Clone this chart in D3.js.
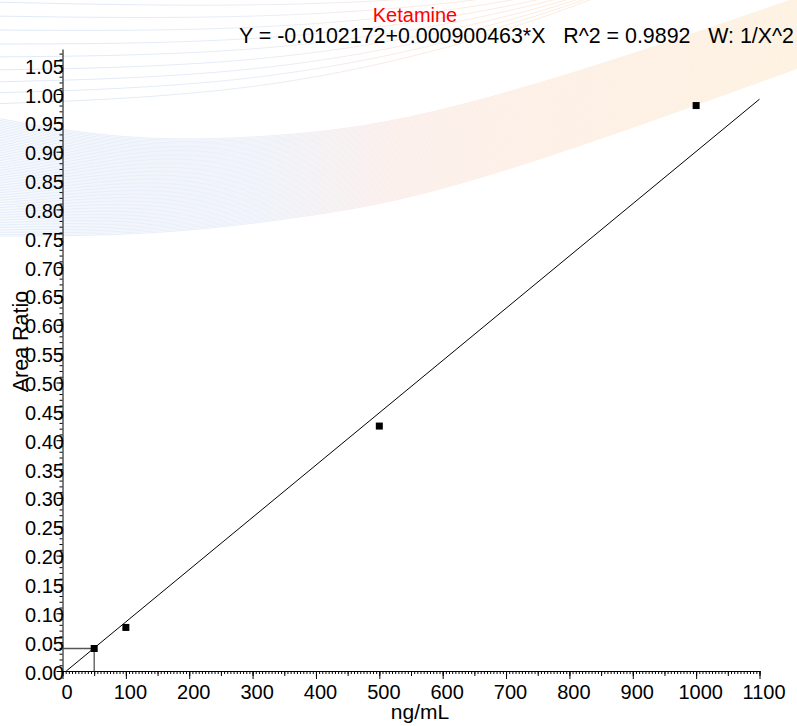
<!DOCTYPE html>
<html>
<head>
<meta charset="utf-8">
<script src="https://cdn.jsdelivr.net/npm/d3@7.9.0/dist/d3.min.js"></script>
<style>
  body { margin: 0; background: #fff; }
  svg { display: block; font-family: "Liberation Sans", Arial, Helvetica, sans-serif; }
</style>
</head>
<body>
<svg id="chart" width="797" height="726"></svg>
<script>
// calibration points (ng/mL vs area ratio)
const concentrations = [50, 100, 500, 1000];
const areaRatios = [0.039, 0.0755, 0.4245, 0.980];

// fitted line as drawn (start / end)
const fitX = [6, 1100];
const fitY = [0, 0.991];

// lowest point is marked with guide lines
const markX = 50;
const markY = 0.039;

const chartTitle = 'Ketamine';
const equation = 'Y = -0.0102172+0.000900463*X   R^2 = 0.9892   W: 1/X^2';
const xTitle = 'ng/mL';
const yTitle = 'Area Ratio';

const xTicks = d3.range(0, 1101, 100);
const yTicks = d3.range(0, 21).map(i => i * 0.05).concat([1.05]);

const svg = d3.select('#chart');
const W = 797, H = 726;

svg.append('rect').attr('width', W).attr('height', H).attr('fill', '#fff');

// --- background swoosh decoration ---
const defs = svg.append('defs');
const grad = defs.append('linearGradient')
  .attr('id', 'swoosh')
  .attr('gradientUnits', 'userSpaceOnUse')
  .attr('x1', 0).attr('y1', 0).attr('x2', 797).attr('y2', 0);
grad.append('stop').attr('offset', '0%').attr('stop-color', '#7ea8e4');
grad.append('stop').attr('offset', '33%').attr('stop-color', '#a2b6de');
grad.append('stop').attr('offset', '50%').attr('stop-color', '#eea892');
grad.append('stop').attr('offset', '72%').attr('stop-color', '#f5b27a');
grad.append('stop').attr('offset', '100%').attr('stop-color', '#f8bf6e');

const curve = d3.line().curve(d3.curveBasis);
const bg = svg.append('g');

// main ribbon: upper and lower edges
const bandTop = [[-20, 115], [130, 143], [300, 136], [420, 118], [600, 66], [820, -10]];
const bandBot = [[-20, 236], [150, 236], [300, 218], [420, 198], [600, 140], [820, 60]];
const nBand = 70;
for (let i = 0; i <= nBand; i++) {
  const t = i / nBand;
  const pts = bandTop.map((p, j) => [p[0] + (bandBot[j][0] - p[0]) * t, p[1] + (bandBot[j][1] - p[1]) * t]);
  bg.append('path')
    .attr('d', curve(pts))
    .attr('fill', 'none')
    .attr('stroke', 'url(#swoosh)')
    .attr('stroke-width', 0.8)
    .attr('stroke-opacity', 0.26);
}

// thin fan lines at the top
const fanStarts = [2, 16, 30, 44, 57, 70, 82, 93, 104];
fanStarts.forEach(y0 => {
  const pts = [[-10, y0], [250, y0 * 0.85 + 6], [480, y0 * 0.45 - 4], [640, y0 * 0.1 - 30]];
  bg.append('path')
    .attr('d', curve(pts))
    .attr('fill', 'none')
    .attr('stroke', 'url(#swoosh)')
    .attr('stroke-width', 1)
    .attr('stroke-opacity', 0.25);
});

// --- scales ---
const x = d3.scaleLinear().domain([0, 1100]).range([62.5, 759.5]);
const y = d3.scaleLinear().domain([0, 1.078]).range([671, 49]);

// x axis
const xAxisG = svg.append('g').attr('transform', `translate(0,${y(0)})`);
xAxisG.append('g')
  .call(d3.axisBottom(x).tickValues(d3.range(0, 1101, 5)).tickSize(3).tickFormat(''))
  .call(g => g.select('.domain').remove());
xAxisG.append('g')
  .call(d3.axisBottom(x).tickValues(d3.range(0, 1101, 50)).tickSize(5).tickFormat(''))
  .call(g => g.select('.domain').remove());
xAxisG.append('g')
  .call(d3.axisBottom(x).tickValues(xTicks).tickSize(8).tickSizeOuter(0).tickPadding(6).tickFormat(d3.format('d')))
  .call(g => g.selectAll('text').attr('font-size', 20).attr('dx', 4).attr('fill', '#000'));

// y axis
const yAxisG = svg.append('g').attr('transform', `translate(${x(0)},0)`);
yAxisG.append('g')
  .call(d3.axisLeft(y).tickValues(d3.range(0, 108).map(i => i / 100)).tickSize(3).tickFormat(''))
  .call(g => g.select('.domain').remove());
yAxisG.append('g')
  .call(d3.axisLeft(y).tickValues(yTicks).tickSize(6).tickSizeOuter(0).tickFormat(d3.format('.2f')))
  .call(g => g.selectAll('text').attr('font-size', 20).attr('x', 1.5).attr('dy', '0.4em').attr('fill', '#000'));

svg.selectAll('.tick line, .domain').attr('stroke', '#000');
svg.selectAll('g[font-family]').attr('font-family', null);

// guide lines to the lowest standard
svg.append('path')
  .attr('d', d3.line()([[x(0), y(markY)], [x(markX), y(markY)], [x(markX), y(0)]]))
  .attr('fill', 'none')
  .attr('stroke', '#555')
  .attr('stroke-width', 1.3);

// fitted line
svg.append('line')
  .attr('x1', x(fitX[0])).attr('y1', y(fitY[0]))
  .attr('x2', x(fitX[1])).attr('y2', y(fitY[1]))
  .attr('stroke', '#000')
  .attr('stroke-width', 1);

// points
svg.append('g').selectAll('rect')
  .data(concentrations.map((c, i) => ({ c, r: areaRatios[i] })))
  .join('rect')
  .attr('x', d => x(d.c) - 3.5)
  .attr('y', d => y(d.r) - 3.5)
  .attr('width', 7)
  .attr('height', 7)
  .attr('fill', '#000');

// titles
svg.append('text')
  .attr('x', 415).attr('y', 22)
  .attr('text-anchor', 'middle')
  .attr('font-size', 20)
  .attr('fill', '#ff0000')
  .text(chartTitle);

svg.append('text')
  .attr('x', 794).attr('y', 43)
  .attr('text-anchor', 'end')
  .attr('font-size', 21.4)
  .style('white-space', 'pre')
  .attr('fill', '#000')
  .text(equation);

svg.append('text')
  .attr('x', 420).attr('y', 719)
  .attr('text-anchor', 'middle')
  .attr('font-size', 21)
  .attr('fill', '#000')
  .text(xTitle);

svg.append('text')
  .attr('transform', 'translate(28,341.5) rotate(-90)')
  .attr('text-anchor', 'middle')
  .attr('font-size', 21.5)
  .attr('fill', '#000')
  .text(yTitle);
</script>
</body>
</html>
